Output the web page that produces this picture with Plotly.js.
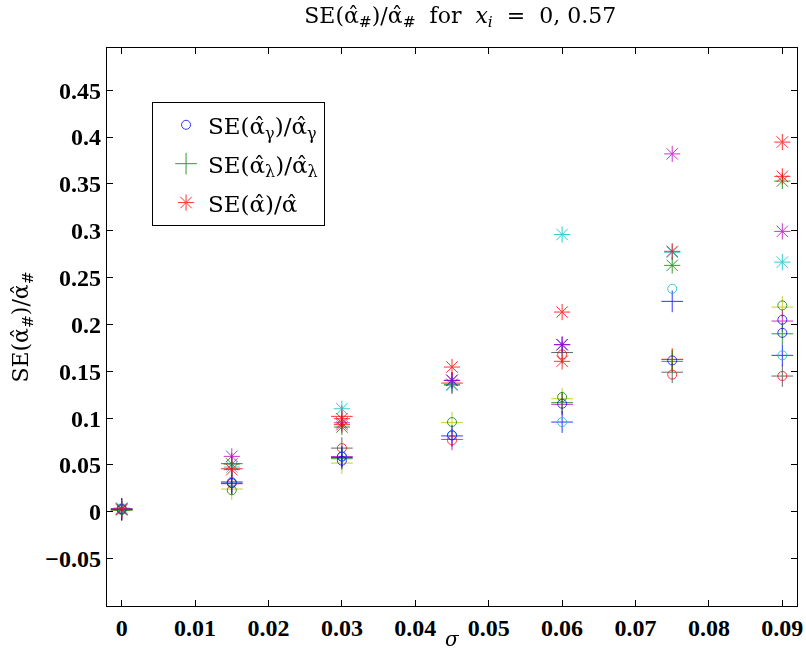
<!DOCTYPE html>
<html>
<head>
<meta charset="utf-8">
<script src="https://cdn.plot.ly/plotly-3.0.1.min.js"></script>
<style>html,body{margin:0;padding:0;background:#fff;}#chart{width:806px;height:654px;}</style>
</head>
<body>
<div id="chart"></div>
<script>
// sigma values (x axis)
const sigma = [0, 0.015, 0.03, 0.045, 0.06, 0.075, 0.09];
const xTickVals = [0, 0.01, 0.02, 0.03, 0.04, 0.05, 0.06, 0.07, 0.08, 0.09];
const xTickText = ["0", "0.01", "0.02", "0.03", "0.04", "0.05", "0.06", "0.07", "0.08", "0.09"];
const yTickVals = [-0.05, 0, 0.05, 0.1, 0.15, 0.2, 0.25, 0.3, 0.35, 0.4, 0.45];
const yTickText = ["\u22120.05", "0", "0.05", "0.1", "0.15", "0.2", "0.25", "0.3", "0.35", "0.4", "0.45"];

// circles: SE(alpha_gamma)/alpha_gamma
const circBlue   = [0.003, 0.031, 0.0546, 0.0816, 0.1154, 0.1616, 0.205];
const circBlue2  = [null, null, 0.059, null, null, null, 0.191];
const circGreen  = [0.002, 0.023, null, 0.0958, 0.1225, null, 0.2203];
const circRed    = [0.003, 0.0305, 0.068, 0.0763, 0.168, 0.1464, 0.145];
const circCyan   = [0.004, 0.032, 0.059, 0.082, 0.0958, 0.238, 0.167];

// pluses: SE(alpha_lambda)/alpha_lambda
const plusBlue    = [0.003, 0.0307, 0.058, 0.081, 0.0958, 0.2246, 0.167];
const plusGreen   = [0.002, 0.032, 0.0567, null, 0.1165, 0.1606, 0.190];
const plusRed     = [0.003, 0.046, 0.1019, 0.1374, null, 0.1627, null];
const plusMagenta = [0.003, 0.030, 0.059, 0.0773, 0.1147, null, 0.2036];
const plusYellow  = [0.002, 0.0243, 0.052, 0.0952, 0.1207, 0.1627, 0.2185];
const plusBlack   = [0.002, 0.0514, 0.068, null, 0.170, 0.149, 0.1449];

// asterisks: SE(alpha)/alpha
const astRed     = [0.003, 0.045, 0.0994, 0.1545, 0.2132, 0.278, 0.3946];
const astRed2    = [null, null, 0.093, null, 0.1606, null, 0.358];
const astGreen   = [0.002, 0.051, 0.0905, 0.136, null, 0.263, 0.353];
const astCyan    = [0.004, 0.0478, 0.110, 0.135, 0.296, 0.277, 0.2665];
const astBlue    = [null, null, null, 0.1403, 0.1784, null, null];
const astMagenta = [0.003, 0.0592, 0.095, 0.1403, 0.1784, 0.382, 0.2993];

const C = {b:'#0000ff', g:'#008000', r:'#ff0000', c:'#00bfbf', m:'#bf00bf', y:'#bfbf00', k:'#404040'};
const ah = '\u03B1\u0302';
const legCirc = 'SE(' + ah + '<sub>\u03B3</sub>)/' + ah + '<sub>\u03B3</sub>';
const legPlus = 'SE(' + ah + '<sub>\u03BB</sub>)/' + ah + '<sub>\u03BB</sub>';
const legAst  = 'SE(' + ah + ')/' + ah;
const seHash  = 'SE(' + ah + '<sub>#</sub>)/' + ah + '<sub>#</sub>';
const nb = '\u00A0';

function tr(y, sym, col, size, opts) {
  return Object.assign({
    type: 'scatter', mode: 'markers', x: sigma, y: y, showlegend: false,
    hoverinfo: 'skip', opacity: 0.8,
    marker: {symbol: sym, size: size, color: col, line: {color: col, width: 1}}
  }, opts || {});
}
const OS = 9, PS = 15.5, AS = 13.5;
const data = [
  tr(plusBlack, 'cross-thin-open', C.k, PS),
  tr(plusYellow, 'cross-thin-open', C.y, PS),
  tr(plusRed, 'cross-thin-open', C.r, PS),
  tr(plusMagenta, 'cross-thin-open', C.m, PS),
  tr(plusGreen, 'cross-thin-open', C.g, PS, {showlegend: true, name: legPlus, legendrank: 2, legendgroup: 'b'}),
  tr(plusBlue, 'cross-thin-open', C.b, PS),
  tr(circRed, 'circle-open', C.r, OS),
  tr(circGreen, 'circle-open', C.g, OS),
  tr(circCyan, 'circle-open', C.c, OS),
  tr(circBlue2, 'circle-open', C.b, OS),
  tr(circBlue, 'circle-open', C.b, OS, {showlegend: true, name: legCirc, legendrank: 1, legendgroup: 'a'}),
  tr(astGreen, 'asterisk-open', C.g, AS),
  tr(astCyan, 'asterisk-open', C.c, AS),
  tr(astBlue, 'asterisk-open', C.b, AS),
  tr(astMagenta, 'asterisk-open', C.m, AS),
  tr(astRed2, 'asterisk-open', C.r, AS),
  tr(astRed, 'asterisk-open', C.r, AS, {showlegend: true, name: legAst, legendrank: 3, legendgroup: 'c'})
];

const serif = 'Liberation Serif, Times New Roman, serif';
const mathSerif = 'DejaVu Serif, serif';
const tickFont = {family: serif, size: 24, weight: 'bold', color: '#000'};
const axisCommon = {
  showgrid: false, zeroline: false, showline: true, mirror: 'ticks',
  linecolor: '#000', linewidth: 1.3, ticks: 'inside', ticklen: 6, tickwidth: 1,
  tickcolor: '#000', tickmode: 'array', tickfont: tickFont
};
const layout = {
  width: 806, height: 654,
  margin: {l: 107, r: 9, t: 48, b: 48, pad: 0},
  paper_bgcolor: '#fff', plot_bgcolor: '#fff',
  title: {text: seHash + nb + ' for ' + nb + '<i>x<sub>i</sub></i>' + nb + ' = ' + nb + '0, 0.57',
          font: {family: mathSerif, size: 22, color: '#000'}, x: 0.571, xanchor: 'center', y: 0.977, yanchor: 'middle'},
  xaxis: Object.assign({}, axisCommon, {
    range: [-0.002, 0.092], tickvals: xTickVals, ticktext: xTickText
  }),
  yaxis: Object.assign({}, axisCommon, {
    range: [-0.1005, 0.495], tickvals: yTickVals, ticktext: yTickText,
    title: {text: seHash, font: {family: mathSerif, size: 22, color: '#000'}, standoff: 10}
  }),
  annotations: [{
    text: '<i>\u03C3</i>', xref: 'paper', yref: 'paper', x: 0.5, y: -0.06,
    xanchor: 'center', yanchor: 'middle', showarrow: false, borderpad: 0,
    font: {family: mathSerif, size: 20, color: '#000'}
  }],
  showlegend: true,
  legend: {
    x: 0.065, y: 0.903, xanchor: 'left', yanchor: 'top',
    bgcolor: '#fff', bordercolor: '#000', borderwidth: 1.2,
    font: {family: mathSerif, size: 23, color: '#000'},
    traceorder: 'grouped', tracegroupgap: 6, indentation: 11, itemwidth: 34
  }
};
Plotly.newPlot('chart', data, layout, {displayModeBar: false, staticPlot: true});
</script>
</body>
</html>
